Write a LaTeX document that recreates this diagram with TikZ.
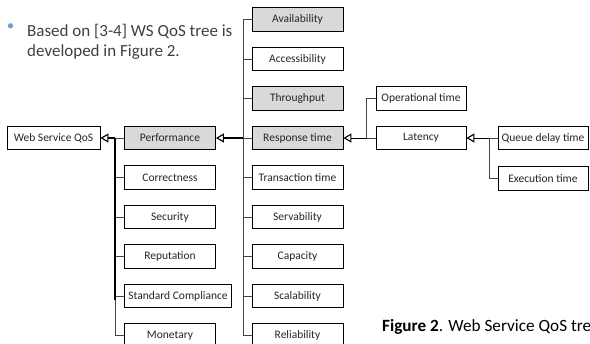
\documentclass[tikz,border=0pt]{standalone}
\usepackage{fontspec}
\setmainfont{Carlito}
\usepackage{tikz}
\usetikzlibrary{arrows.meta,positioning}
\definecolor{BoxGray}{RGB}{217,217,217}
\definecolor{LineGray}{RGB}{70,70,70}
\definecolor{TextGray}{RGB}{64,64,64}
\definecolor{BulletBlue}{RGB}{110,160,215}

\tikzset{
  qbox/.style={draw=black,line width=0.8pt,fill=white,minimum height=23.5pt,
    inner sep=0pt,font=\fontsize{11.5}{13}\selectfont,text=black!85},
  qgray/.style={qbox,fill=BoxGray},
  link/.style={LineGray,line width=0.9pt},
  trunk/.style={black,line width=1.6pt},
  up/.style={-{Triangle[open,length=8pt,width=9pt,line width=1.1pt]},black},
}

\begin{document}
\begin{tikzpicture}[x=1pt,y=-1pt]
        \useasboundingbox (0,0) rectangle (590,344);
        % bullet text
        \node[BulletBlue,inner sep=0pt,font=\fontsize{15}{15}\selectfont] (dot) at (10.5,27.5) {•};
        \node[anchor=base west,align=left,inner sep=0pt,text=TextGray,
          font=\fontsize{17}{20}\selectfont] (intro) at (27,57)
          {Based on [3-4] WS QoS tree is\\developed in Figure 2.};
        % root and left column
        \node[qbox,minimum width=93pt] (qos) at (53.5,138) {Web Service QoS};
        \node[qgray,minimum width=91pt] (perf) at (170,138) {Performance};
        \node[qbox,minimum width=91pt] (corr) at (170,177.5) {Correctness};
        \node[qbox,minimum width=91pt] (sec) at (170,217) {Security};
        \node[qbox,minimum width=91pt] (rep) at (170,256.5) {Reputation};
        \node[qbox,minimum width=107pt] (std) at (178,296) {Standard Compliance};
        \node[qbox,minimum width=91pt] (mon) at (170,335.5) {Monetary};
        % right column
        \node[qgray,minimum width=91pt] (avail) at (297.5,19.5) {Availability};
        \node[qbox,minimum width=91pt] (acc) at (297.5,59) {Accessibility};
        \node[qgray,minimum width=91pt] (thr) at (297.5,98.5) {Throughput};
        \node[qgray,minimum width=91pt] (resp) at (297.5,138) {Response time};
        \node[qbox,minimum width=91pt] (trans) at (297.5,177.5) {Transaction time};
        \node[qbox,minimum width=91pt] (serv) at (297.5,217) {Servability};
        \node[qbox,minimum width=91pt] (cap) at (297.5,256.5) {Capacity};
        \node[qbox,minimum width=91pt] (scal) at (297.5,296) {Scalability};
        \node[qbox,minimum width=91pt] (rel) at (297.5,335.5) {Reliability};
        % response time and latency
        \node[qbox,minimum width=90pt] (optime) at (421,98.5) {Operational time};
        \node[qbox,minimum width=90pt] (lat) at (421,138) {Latency};
        \node[qbox,minimum width=90pt] (queue) at (543,138) {Queue delay time};
        \node[qbox,minimum width=90pt] (exec) at (543,178.5) {Execution time};
        \coordinate (lt) at (115,138);
        \coordinate (rt) at (243,138);
        \coordinate (ot) at (366,138);
        \coordinate (qt) at (489,138);
        % connectors
        \foreach \c in {perf,corr,sec,rep,std,mon}
          \draw[link] (\c.west) -| (lt);
        \draw[trunk] (lt) -- (115,300);
        \draw[up,line width=1.6pt] (lt) -- (qos.east);
        \foreach \c in {avail,acc,thr,resp,trans,serv,cap,scal,rel}
          \draw[link] (\c.west) -| (rt);
        \draw[up,line width=1.6pt] (rt) -- (perf.east);
        \draw[link] (optime.west) -| (ot);
        \draw[link] (lat.west) -- (ot);
        \draw[up,line width=0.9pt] (ot) -- (resp.east);
        \draw[link] (queue.west) -- (qt);
        \draw[link] (exec.west) -| (qt);
        \draw[up,line width=0.9pt] (qt) -- (lat.east);
        % caption
        \node[anchor=base west,inner sep=0pt,font=\fontsize{17.2}{19}\selectfont]
          (cap2) at (382,332) {\textbf{Figure 2}. Web Service QoS tre};
      \end{tikzpicture}
\end{document}
